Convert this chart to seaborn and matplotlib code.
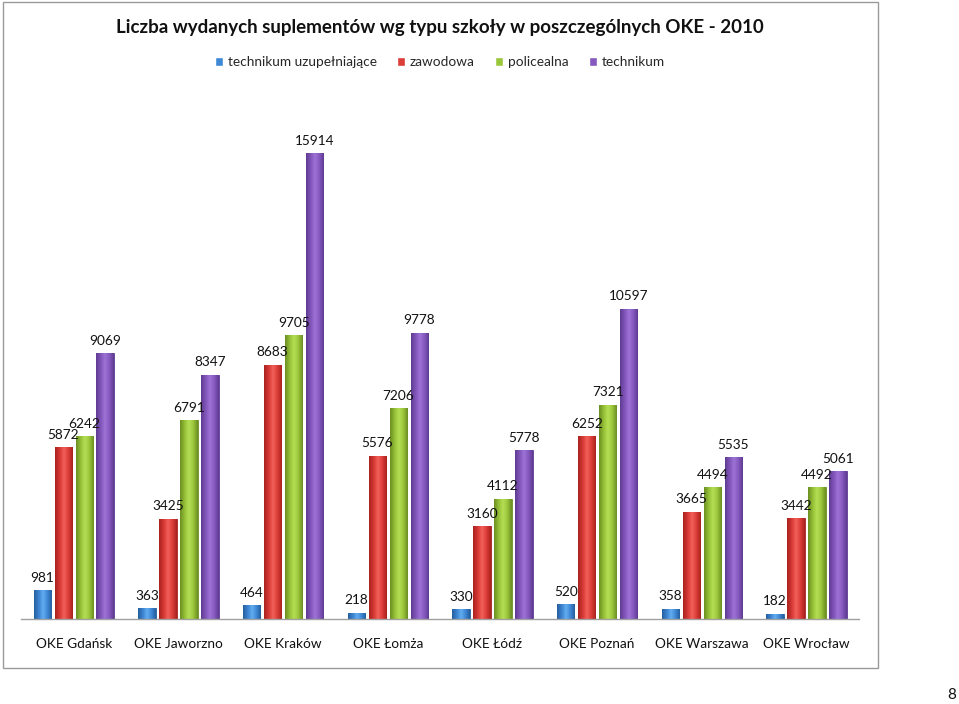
import matplotlib
matplotlib.use("Agg")
import matplotlib.pyplot as plt
import seaborn as sns
import pandas as pd
import numpy as np
from matplotlib.patches import Rectangle
from matplotlib.colors import LinearSegmentedColormap

categories = ["OKE Gdańsk", "OKE Jaworzno", "OKE Kraków", "OKE Łomża",
              "OKE Łódź", "OKE Poznań", "OKE Warszawa", "OKE Wrocław"]
series = ["technikum uzupełniające", "zawodowa", "policealna", "technikum"]
tech_uzup = [981, 363, 464, 218, 330, 520, 358, 182]
zawodowa = [5872, 3425, 8683, 5576, 3160, 6252, 3665, 3442]
policealna = [6242, 6791, 9705, 7206, 4112, 7321, 4494, 4492]
technikum = [9069, 8347, 15914, 9778, 5778, 10597, 5535, 5061]
title = "Liczba wydanych suplementów wg typu szkoły w poszczególnych OKE - 2010"

colors = ["#3f88d6", "#dc3d38", "#9bc73b", "#8659bf"]
lights = ["#62aef0", "#f2615a", "#b6de55", "#9d74d6"]
darks = ["#255f9f", "#a8221e", "#6b8e22", "#5e3b92"]

rows = []
for s, vals in zip(series, [tech_uzup, zawodowa, policealna, technikum]):
    for c, v in zip(categories, vals):
        rows.append({"OKE": c, "typ": s, "value": v})
df = pd.DataFrame(rows)

sns.set_theme(style="white")
plt.rcParams["font.family"] = ["Lato", "DejaVu Sans"]

W, H = 959, 704
fig = plt.figure(figsize=(W / 100, H / 100), dpi=100)
fig.patch.set_facecolor("white")

fig.patches.append(Rectangle((3 / W, 1 - 668 / H), 875 / W, 666 / H,
                             transform=fig.transFigure, fill=False,
                             edgecolor="#9a9a9a", linewidth=1.0))

ax = fig.add_axes([21.4 / W, 1 - 619 / H, (858.9 - 21.4) / W, (619 - 90) / H])
sns.barplot(data=df, x="OKE", y="value", hue="typ", hue_order=series,
            order=categories, palette=colors, width=0.8, gap=0.17,
            ax=ax, legend=True, saturation=1)

ymax = 15914 * 529 / 466
grad = np.linspace(0, 1, 64).reshape(1, -1)
for cont, lc, mc, dc in zip(ax.containers, lights, colors, darks):
    cmap = LinearSegmentedColormap.from_list(
        "g", [(0, dc), (0.3, mc), (0.5, lc), (0.75, mc), (1, dc)])
    for p in cont:
        p.set_edgecolor(dc)
        p.set_linewidth(0.6)
        x, w, h = p.get_x(), p.get_width(), p.get_height()
        im = ax.imshow(grad, extent=(x, x + w, 0, h), aspect="auto",
                       cmap=cmap, origin="lower", zorder=p.get_zorder() + 0.1,
                       interpolation="bilinear")
        im.set_clip_path(p)
    ax.bar_label(cont, labels=[f"{int(v)}" for v in cont.datavalues],
                 padding=4.5, fontsize=9.8, color="#111111")

ax.set_ylim(0, ymax)
ax.set_xlim(-0.5, 7.5)
ax.set_xlabel("")
ax.set_ylabel("")
ax.set_yticks([])
ax.tick_params(axis="x", length=0, labelsize=9.8, pad=14, colors="#111111")
for sp in ["left", "right", "top"]:
    ax.spines[sp].set_visible(False)
ax.spines["bottom"].set_color("#a0a0a0")
ax.spines["bottom"].set_linewidth(1.0)
ax.set_facecolor("white")

handles, labels = ax.get_legend_handles_labels()
ax.legend_.remove()
fig.legend(handles, labels, loc="center", bbox_to_anchor=(440 / W, 1 - 62 / H),
           ncol=4, frameon=False, fontsize=9.8, handlelength=0.6,
           handleheight=0.6, handletextpad=0.35, columnspacing=1.5)

fig.text(440 / W, 1 - 27 / H, title, ha="center", va="center",
         fontsize=13.5, fontweight="bold", color="#111111")
fig.text(952 / W, 1 - 695 / H, "8", ha="center", va="center",
         fontsize=11, color="#111111")

fig.savefig("out.png", dpi=100, facecolor="white")
